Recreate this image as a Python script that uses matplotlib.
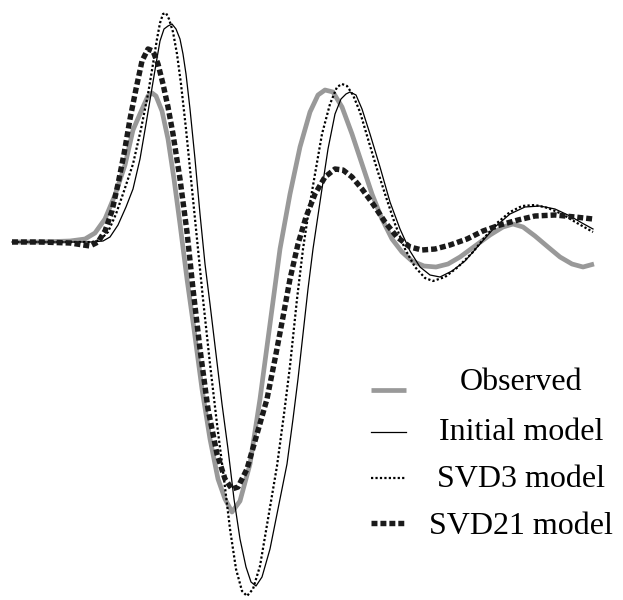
import matplotlib.pyplot as plt
import numpy as np

# waveforms: sample position and amplitude (positive up, zero = baseline)
obs_t = [12, 40, 70, 85, 95, 105, 115, 125, 133, 143, 148, 152, 156, 162, 168, 174, 180, 187, 194, 202,
         210, 218, 225, 232, 240, 250, 260, 270, 280, 290, 300, 310, 318, 325, 333, 342, 352, 362, 372,
         382, 392, 402, 412, 424, 436, 448, 460, 475, 490, 503, 513, 523, 535, 548, 560, 572, 583, 594]
obs_a = [0, 0, 1, 3, 9, 23, 47, 77, 112, 135, 146, 149, 146, 131, 103, 63, 18, -37, -87, -147,
         -197, -237, -257, -270, -259, -222, -157, -82, -7, 48, 95, 130, 147, 152, 150, 135, 108, 78, 48,
         23, 3, -10, -19, -24, -25, -22, -15, -4, 7, 15, 18, 15, 6, -5, -15, -22, -25, -22]

init_t = [12, 60, 90, 103, 110, 118, 126, 133, 140, 146, 151, 156, 160, 164, 168, 172, 176, 180, 183,
          186, 190, 195, 200, 205, 210, 216, 222, 228, 234, 240, 246, 251, 256, 262, 270, 278, 287, 293,
          298, 303, 308, 313, 320, 328, 335, 341, 346, 350, 356, 362, 370, 380, 390, 400, 410, 420, 430,
          440, 452, 465, 480, 495, 510, 525, 540, 555, 570, 582, 593]
init_a = [0, 0, 0, 1, 5, 17, 35, 53, 83, 118, 148, 178, 201, 213, 216, 218, 213, 203, 188,
          168, 133, 83, 28, -22, -62, -112, -162, -207, -257, -297, -325, -340, -344, -335, -307, -267, -222, -177,
          -137, -92, -47, -7, 40, 93, 128, 143, 148, 150, 147, 133, 108, 75, 40, 13, -9, -25, -33,
          -35, -29, -19, -2, 15, 28, 35, 36, 33, 26, 19, 13]

svd3_t = [12, 60, 92, 100, 108, 116, 124, 133, 141, 148, 153, 157, 160, 163, 166, 169, 173, 177, 181,
          186, 191, 197, 203, 210, 217, 224, 230, 236, 242, 247, 253, 260, 268, 277, 284, 290, 297, 303,
          309, 315, 322, 330, 337, 342, 347, 353, 360, 368, 377, 386, 395, 405, 415, 425, 433, 445, 458,
          473, 485, 497, 510, 522, 535, 548, 562, 577, 593]
svd3_a = [0, 0, 0, 2, 10, 28, 51, 78, 113, 148, 178, 203, 219, 228, 229, 223, 210, 188, 158,
          113, 63, 3, -57, -122, -182, -237, -287, -327, -349, -354, -347, -324, -277, -224, -172, -124, -57, -7,
          33, 68, 108, 138, 155, 158, 156, 147, 130, 103, 73, 45, 18, -7, -25, -36, -39, -35, -25,
          -10, 5, 19, 30, 36, 37, 34, 28, 19, 10]

svd21_t = [12, 40, 70, 90, 98, 105, 112, 118, 124, 130, 136, 142, 148, 153, 158, 163, 168, 173, 180,
           187, 193, 200, 208, 217, 225, 232, 238, 247, 257, 267, 275, 283, 290, 298, 306, 315, 325, 335,
           343, 352, 362, 373, 385, 397, 410, 422, 435, 450, 467, 483, 500, 518, 535, 555, 575, 593]
svd21_a = [0, 0, -1, -4, 0, 11, 31, 58, 88, 123, 153, 181, 193, 191, 178, 158, 135, 108, 63,
           10, -47, -107, -167, -212, -237, -247, -245, -227, -192, -157, -117, -75, -37, -2, 25, 48, 65, 73,
           72, 65, 53, 38, 20, 5, -5, -8, -7, -3, 3, 11, 17, 22, 26, 27, 25, 23]

labels = ["Observed", "Initial model", "SVD3 model", "SVD21 model"]

styles = [
    dict(color="#999999", lw=3.4, solid_capstyle="butt"),
    dict(color="black", lw=0.9),
    dict(color="black", lw=1.6, linestyle=(0, (1.0, 1.0))),
    dict(color="#1a1a1a", lw=3.9, linestyle=(0, (1.1, 0.55))),
]

fig = plt.figure(figsize=(6.23, 6.0), dpi=100)
ax = fig.add_axes([0, 0, 1, 1])

series = [(obs_t, obs_a), (init_t, init_a), (svd3_t, svd3_a), (svd21_t, svd21_a)]
for (t, a), st in zip(series, styles):
    ax.plot(t, a, **st)

ax.set_xlim(0, 623)
ax.set_ylim(-358, 242)
ax.axis("off")

# hand-made legend: short line samples on the left, centred labels on the right
line_y = [0.350, 0.280, 0.203, 0.128]
text_y = [0.350, 0.267, 0.188, 0.110]
for lab, st, ly, ty in zip(labels, styles, line_y, text_y):
    ax.plot([0.595, 0.652], [ly, ly], transform=ax.transAxes, **st)
    ax.text(0.836, ty, lab, transform=ax.transAxes, ha="center", va="baseline",
            fontsize=23, family=["Liberation Serif", "DejaVu Serif"])

fig.savefig("out.png", dpi=100)
